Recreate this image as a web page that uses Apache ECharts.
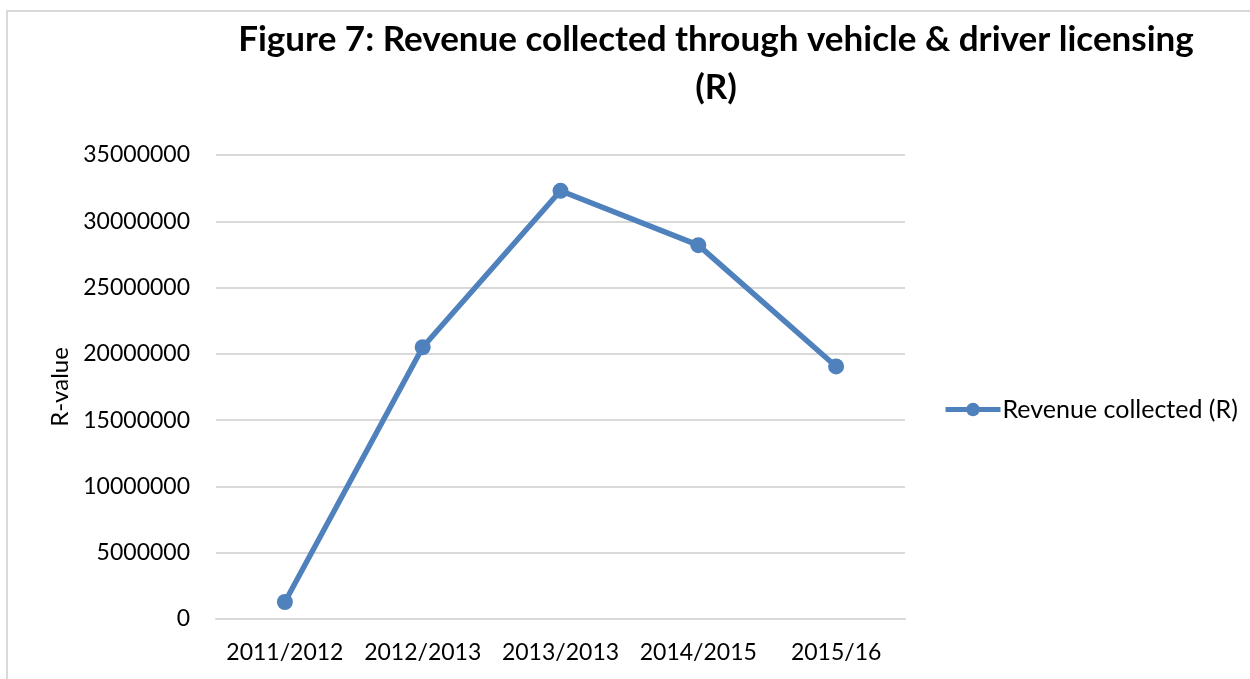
<!DOCTYPE html>
<html>
<head>
<meta charset="utf-8">
<title>Figure 7</title>
<script src="https://cdn.jsdelivr.net/npm/echarts@6/dist/echarts.min.js"></script>
<style>
  html, body { margin: 0; padding: 0; background: #fff; }
  #chart { width: 1250px; height: 679px; }
  #frame {
    position: absolute; left: 6px; top: 10px; width: 1300px; height: 700px;
    border: 2px solid #d9d9d9; pointer-events: none;
  }
</style>
</head>
<body>
<div id="chart"></div>
<div id="frame"></div>
<script>
const categories = ['2011/2012', '2012/2013', '2013/2013', '2014/2015', '2015/16']
const revenue = [1280000, 20500000, 32300000, 28200000, 19050000]
const seriesName = 'Revenue collected (R)'
const titleLines = ['Figure 7: Revenue collected through vehicle & driver licensing', '(R)']

const font = 'Lato'
const chart = echarts.init(document.getElementById('chart'))

const option = {
  animation: false,
  textStyle: { fontFamily: font },
  graphic: titleLines.map((line, i) => ({
    type: 'text',
    x: 716,
    y: 40 + i * 48,
    style: {
      text: line,
      fontFamily: font,
      fontWeight: 'bold',
      fontSize: 35,
      fill: '#000',
      align: 'center',
      verticalAlign: 'middle'
    }
  })),
  grid: {
    left: 216,
    right: 345,
    top: 155,
    bottom: 60
  },
  legend: {
    left: 938,
    top: 392,
    itemWidth: 55,
    itemHeight: 17,
    itemGap: 10,
    lineStyle: { width: 5 },
    textStyle: { fontFamily: font, fontSize: 25, color: '#000', padding: [0, 0, 0, -3] },
    data: [seriesName]
  },
  xAxis: {
    type: 'category',
    data: categories,
    axisTick: { show: false },
    axisLine: { show: true, lineStyle: { color: '#d9d9d9', width: 2 } },
    axisLabel: { color: '#000', fontSize: 23, margin: 22, fontFamily: font, interval: 0 }
  },
  yAxis: {
    type: 'value',
    min: 0,
    max: 35000000,
    interval: 5000000,
    name: 'R-value',
    nameLocation: 'middle',
    nameGap: 144,
    nameTextStyle: { color: '#000', fontSize: 24, fontFamily: font },
    axisLine: { show: false },
    axisTick: { show: false },
    splitLine: { lineStyle: { color: '#d9d9d9', width: 2 } },
    axisLabel: {
      color: '#000', fontSize: 23, margin: 26, fontFamily: font,
      formatter: v => String(v)
    }
  },
  series: [{
    name: seriesName,
    type: 'line',
    data: revenue,
    symbol: 'circle',
    symbolSize: 16,
    lineStyle: { color: '#4f81bd', width: 5.5 },
    itemStyle: { color: '#4f81bd' }
  }]
}

chart.setOption(option)
</script>
</body>
</html>
